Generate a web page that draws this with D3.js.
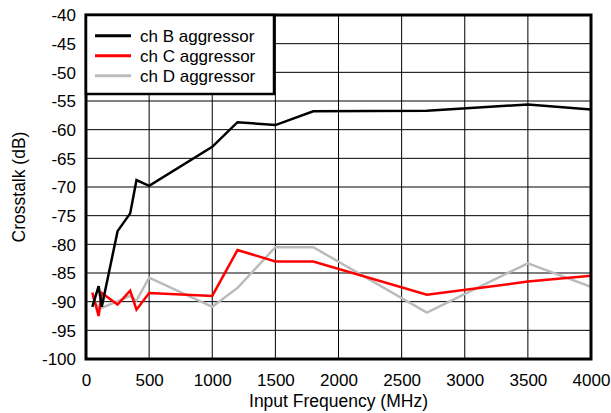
<!DOCTYPE html>
<html><head><meta charset="utf-8">
<script src="https://cdn.jsdelivr.net/npm/d3@7"></script>
<style>body{margin:0;background:#fff}svg{display:block}text{font-family:"Liberation Sans",Arial,Helvetica,sans-serif}</style>
</head><body>
<svg id="c" width="611" height="413"></svg>
<script>
const xTicks = [0,500,1000,1500,2000,2500,3000,3500,4000];
const yTicks = [-100,-95,-90,-85,-80,-75,-70,-65,-60,-55,-50,-45,-40];
const seriesNames = ["ch B aggressor","ch C aggressor","ch D aggressor"];
const seriesColors = ["#000000","#ff0000","#bbbbbb"];
const chB_freq = [50,100,125,250,350,400,500,1000,1200,1500,1800,2700,3500,4000];
const chB_db   = [-90.9,-87.3,-90.9,-77.7,-74.6,-68.8,-69.8,-63.0,-58.7,-59.2,-56.8,-56.7,-55.6,-56.5];
const chC_freq = [50,100,125,250,350,400,500,1000,1200,1500,1800,2700,3500,4000];
const chC_db   = [-88.4,-92.5,-88.5,-90.5,-88.1,-91.4,-88.5,-89.0,-81.0,-83.0,-83.0,-88.8,-86.5,-85.5];
const chD_freq = [50,100,350,400,500,1000,1200,1500,1800,2700,3500,4000];
const chD_db   = [-89.0,-91.3,-89.0,-89.8,-85.8,-90.9,-87.6,-80.5,-80.5,-91.9,-83.3,-87.4];

const svg = d3.select("#c");
const L=86,R=591,T=15,B=359;
const x = d3.scaleLinear().domain([0,4000]).range([L,R]);
const y = d3.scaleLinear().domain([-100,-40]).range([B,T]);

// grid
const g = svg.append("g");
g.selectAll("line.v").data(xTicks).enter().append("line")
  .attr("x1",d=>x(d)).attr("x2",d=>x(d)).attr("y1",T).attr("y2",B)
  .attr("stroke","#000").attr("stroke-width",1);
g.selectAll("line.h").data(yTicks).enter().append("line")
  .attr("y1",d=>y(d)).attr("y2",d=>y(d)).attr("x1",L).attr("x2",R)
  .attr("stroke","#000").attr("stroke-width",1);

// axes
const xAxis = d3.axisBottom(x).tickValues(xTicks).tickSize(0).tickPadding(0).tickFormat(d3.format("d"));
const ax = svg.append("g").attr("transform",`translate(0,${B})`).call(xAxis);
ax.select(".domain").remove();
ax.selectAll("text").attr("font-size",17).attr("fill","#000").attr("dy",null).attr("y",27);
const yAxis = d3.axisLeft(y).tickValues(yTicks).tickSize(0).tickPadding(0).tickFormat(d=>String(d));
const ay = svg.append("g").attr("transform",`translate(${L-10},0)`).call(yAxis);
ay.select(".domain").remove();
ay.selectAll("text").attr("font-size",17).attr("fill","#000").attr("x",0).attr("dy","0.35em");

// lines
const series = [[chB_freq,chB_db],[chC_freq,chC_db],[chD_freq,chD_db]];
const line = d3.line().x(d=>x(d[0])).y(d=>y(d[1]));
svg.append("clipPath").attr("id","pc").append("rect").attr("x",L).attr("y",T).attr("width",R-L).attr("height",B-T);
[2,1,0].forEach(i=>{
  const pts = series[i][0].map((f,j)=>[f,series[i][1][j]]);
  svg.append("path").datum(pts).attr("d",line).attr("fill","none")
    .attr("stroke",seriesColors[i]).attr("stroke-width",2.5).attr("stroke-linejoin","miter")
    .attr("clip-path","url(#pc)");
});

// frame
svg.append("rect").attr("x",L).attr("y",T).attr("width",R-L).attr("height",B-T)
  .attr("fill","none").attr("stroke","#000").attr("stroke-width",3);

// legend
const lg = svg.append("g");
lg.append("rect").attr("x",L).attr("y",T).attr("width",188).attr("height",79)
  .attr("fill","#fff").attr("stroke","#000").attr("stroke-width",2.5);
seriesNames.forEach((n,i)=>{
  const yy = 35.7 + i*20;
  lg.append("line").attr("x1",95).attr("x2",131).attr("y1",yy).attr("y2",yy)
    .attr("stroke",seriesColors[i]).attr("stroke-width",3);
  lg.append("text").attr("x",140).attr("y",yy).attr("dy","0.35em").attr("font-size",17).text(n);
});

// titles
svg.append("text").attr("x",(L+R)/2).attr("y",407).attr("text-anchor","middle").attr("font-size",17.5).text("Input Frequency (MHz)");
svg.append("text").attr("transform","translate(25,187) rotate(-90)").attr("text-anchor","middle").attr("font-size",17.5).text("Crosstalk (dB)");
</script>
</body></html>
